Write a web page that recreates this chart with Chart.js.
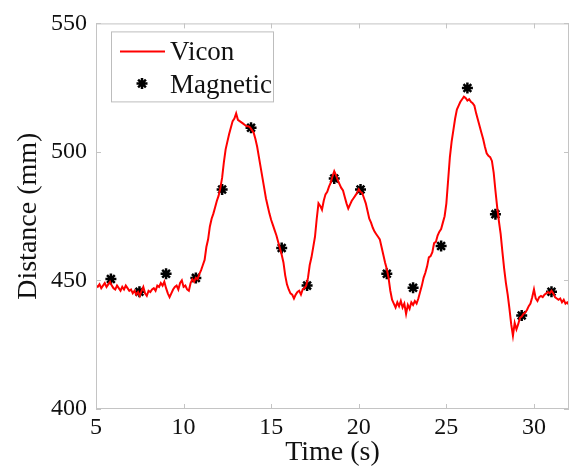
<!DOCTYPE html>
<html>
<head>
<meta charset="utf-8">
<script src="https://cdn.jsdelivr.net/npm/chart.js@4.4.0/dist/chart.umd.min.js"></script>
<style>
  html, body { margin: 0; padding: 0; background: #fff; }
  #wrap { width: 577px; height: 473px; }
</style>
</head>
<body>
<div id="wrap"><canvas id="myChart" width="577" height="473"></canvas></div>
<script>
var viconStart = 5.0
var viconStep = 0.1
var viconDist = [
  448, 447.5, 448.5, 447, 448, 449, 447.5, 448.5, 449.5, 448, 447,
  446.5, 448, 447, 446, 447.5, 446.5, 448, 447, 446, 446.5,
  445, 446, 444.5, 445.5, 444, 446, 447.5, 445, 444, 446,
  445.5, 446.5, 447, 446, 448, 447.5, 449, 448, 449.5, 447,
  445, 443.5, 445, 446.5, 447.5, 448, 446.5, 449, 450, 447.5,
  448, 446.5, 446, 449, 450.5, 449.5, 451, 450.5, 452.5, 454,
  456, 458, 463, 466, 471, 474, 476, 478.5, 481, 483,
  486, 490, 496, 501, 504, 507, 509.5, 512, 513, 515,
  512.5, 512, 511.5, 511, 510.5, 510, 510, 509.5, 508.5, 507.5,
  505, 502, 498, 494, 490, 486, 482, 479, 476, 473.5,
  471.5, 469.5, 467.5, 465, 462.5, 460, 457, 452, 448.5, 446.5,
  445, 444.5, 443, 444.5, 445.5, 446, 444.5, 446.5, 447, 448,
  451, 456, 459, 463, 467, 474, 480, 479, 477.5, 481,
  483.5, 484.5, 486.5, 488, 490.5, 492.5, 491, 489, 487.5, 486,
  485, 482.5, 480, 478, 479.5, 481, 482, 483, 484, 485.5,
  484.5, 484, 482, 480, 477, 474, 472.5, 470.5, 469, 468,
  467, 466, 463, 460, 457, 454.5, 451, 446, 442.5, 441,
  439.5, 441.5, 440, 442, 439.5, 441, 437, 440.5, 439, 441.5,
  440.5, 442, 441, 443, 445.5, 448, 451, 453, 455.5, 459,
  459.5, 461, 464.5, 465, 467.5, 469, 470, 472.5, 475, 480,
  489, 498, 504, 508.5, 513, 516.5, 518, 519.5, 520.5, 521.5,
  521, 520, 520.5, 519.5, 519, 518, 515, 512.5, 510, 507.5,
  505, 502, 499.5, 498.5, 498, 496.5, 492, 485, 478.5, 473,
  468, 461, 454.5, 449, 444.5, 439, 433, 428.5, 433.5, 431,
  433, 435.5, 436, 437, 437.5, 438.5, 440, 441, 443.5, 446.5,
  443, 442, 443.5, 444, 443.5, 444.5, 445, 445.5, 445, 446,
  445, 443.5, 443, 442.5, 443, 441.5, 442.5, 441, 441.5, 440.5
]

var magTime = [5.85, 7.48, 9.0, 10.7, 12.2, 13.85, 15.6, 17.05, 18.6, 20.1, 21.6, 23.1, 24.7, 26.2, 27.8, 29.3, 31.0]
var magDist = [450.6, 445.6, 452.6, 451, 485.4, 509.4, 462.6, 448, 489.7, 485.4, 452.6, 447.2, 463.4, 524.9, 475.8, 436.4, 445.6]

var xTicks = [5, 10, 15, 20, 25, 30]
var yTicks = [400, 450, 500, 550]

var vicon = viconDist.map(function (d, i) {
  return { x: Math.round((viconStart + i * viconStep) * 10) / 10, y: d }
})
var magnetic = magTime.map(function (t, i) {
  return { x: t, y: magDist[i] }
})

var serif = "'Liberation Serif', 'DejaVu Serif', serif"
var axisGrey = '#c4c4c4'

// box round the axes and MATLAB-style ticks pointing inward
var boxPlugin = {
  id: 'box',
  afterDatasetsDraw: function (chart) {
    var ctx = chart.ctx, a = chart.chartArea
    var xs = chart.scales.x, ys = chart.scales.y
    ctx.save()
    ctx.strokeStyle = axisGrey
    ctx.lineWidth = 1
    ctx.strokeRect(a.left + 0.5, a.top + 0.5, a.right - a.left - 1, a.bottom - a.top - 1)
    ctx.beginPath()
    xTicks.forEach(function (v) {
      var px = Math.round(xs.getPixelForValue(v)) + 0.5
      ctx.moveTo(px, a.bottom); ctx.lineTo(px, a.bottom - 5)
      ctx.moveTo(px, a.top); ctx.lineTo(px, a.top + 5)
    })
    yTicks.forEach(function (v) {
      var py = Math.round(ys.getPixelForValue(v)) + 0.5
      ctx.moveTo(a.left, py); ctx.lineTo(a.left + 5, py)
      ctx.moveTo(a.right, py); ctx.lineTo(a.right - 5, py)
    })
    ctx.stroke()
    ctx.restore()
  }
}

// legend box in the upper left corner of the axes
var legendPlugin = {
  id: 'boxLegend',
  afterDraw: function (chart) {
    var ctx = chart.ctx, a = chart.chartArea
    var x0 = a.left + 15, y0 = a.top + 8
    ctx.save()
    ctx.fillStyle = '#fff'
    ctx.fillRect(x0, y0, 162, 70)
    ctx.strokeStyle = '#bdbdbd'
    ctx.lineWidth = 1
    ctx.strokeRect(x0 + 0.5, y0 + 0.5, 162, 70)
    ctx.strokeStyle = '#ff0000'
    ctx.lineWidth = 2
    ctx.beginPath()
    ctx.moveTo(x0 + 9, y0 + 20); ctx.lineTo(x0 + 54, y0 + 20)
    ctx.stroke()
    var m = chart.getDatasetMeta(1).data[0]
    var sx = x0 + 31, sy = y0 + 52
    ctx.strokeStyle = '#000'
    ctx.lineWidth = 2.5
    ctx.beginPath()
    for (var k = 0; k < 4; k++) {
      var ang = k * Math.PI / 4
      ctx.moveTo(sx - 5.5 * Math.cos(ang), sy - 5.5 * Math.sin(ang))
      ctx.lineTo(sx + 5.5 * Math.cos(ang), sy + 5.5 * Math.sin(ang))
    }
    ctx.stroke()
    ctx.fillStyle = '#111'
    ctx.font = '27px ' + serif
    ctx.textBaseline = 'alphabetic'
    ctx.fillText('Vicon', x0 + 59, y0 + 29)
    ctx.fillText('Magnetic', x0 + 59, y0 + 62)
    ctx.restore()
  }
}

var config = {
  type: 'line',
  data: {
    datasets: [{
      label: 'Vicon',
      data: vicon,
      borderColor: '#ff0000',
      borderWidth: 2,
      pointRadius: 0,
      tension: 0,
      fill: false
    }, {
      label: 'Magnetic',
      data: magnetic,
      showLine: false,
      pointStyle: 'star',
      pointRadius: 5.5,
      pointBorderWidth: 2.5,
      pointBorderColor: '#000',
      pointBackgroundColor: '#000'
    }]
  },
  options: {
    responsive: false,
    animation: false,
    events: [],
    layout: { padding: { top: 21, right: 1, left: 0, bottom: 0 } },
    plugins: { legend: { display: false }, tooltip: { enabled: false } },
    scales: {
      x: {
        type: 'linear',
        min: 5,
        max: 32,
        grid: { display: false, drawTicks: false, tickLength: 0 },
        border: { display: false },
        afterBuildTicks: function (s) { s.ticks = xTicks.map(function (v) { return { value: v } }) },
        afterFit: function (s) { s.height = 64 },
        ticks: { color: '#111', font: { family: serif, size: 24 }, padding: 4, maxRotation: 0 },
        title: { display: true, text: 'Time (s)', color: '#111', font: { family: serif, size: 28 }, padding: { bottom: 4 } }
      },
      y: {
        min: 400,
        max: 550,
        grid: { display: false, drawTicks: false, tickLength: 0 },
        border: { display: false },
        afterBuildTicks: function (s) { s.ticks = yTicks.map(function (v) { return { value: v } }) },
        afterFit: function (s) { s.width = 96 },
        ticks: { color: '#111', font: { family: serif, size: 24 }, padding: 9 },
        title: { display: true, text: 'Distance (mm)', color: '#111', font: { family: serif, size: 28 }, padding: { top: 12 } }
      }
    }
  },
  plugins: [boxPlugin, legendPlugin]
}

var myChart = new Chart(document.getElementById('myChart'), config)
</script>
</body>
</html>
